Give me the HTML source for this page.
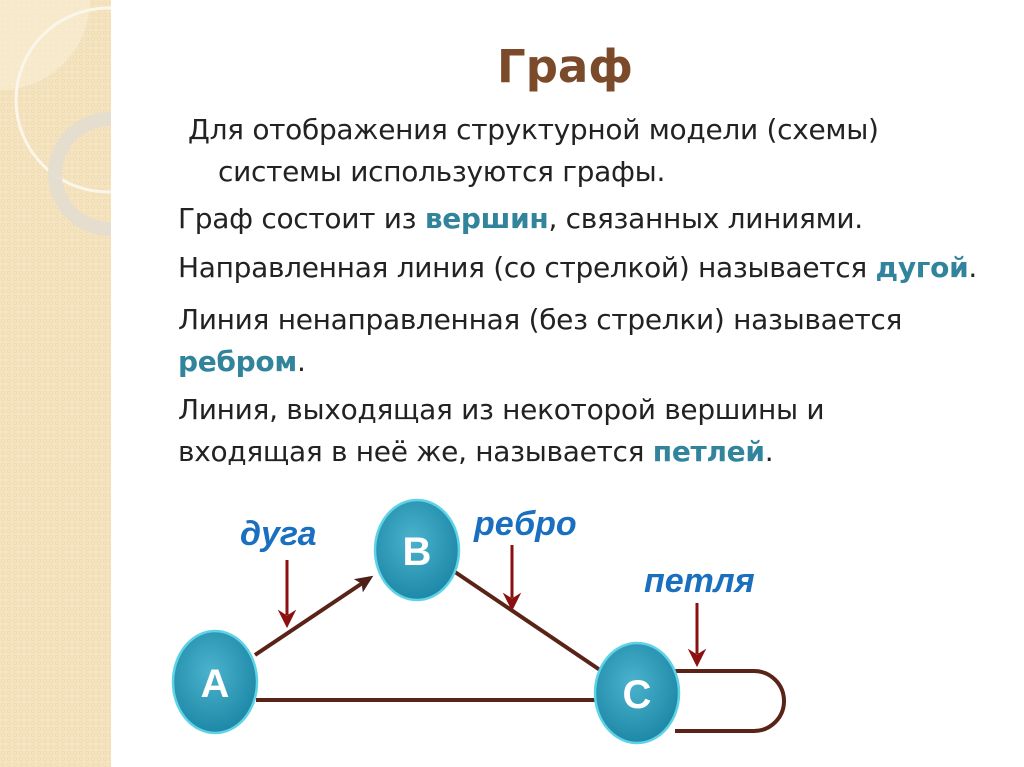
<!DOCTYPE html>
<html><head><meta charset="utf-8"><style>
body{margin:0;width:1024px;height:767px;overflow:hidden;background:#fff;position:relative;font-family:"Liberation Sans","DejaVu Sans",sans-serif}
.t{position:absolute;font-size:28px;color:#222;white-space:nowrap;font-family:"DejaVu Sans","Liberation Sans",sans-serif;letter-spacing:-0.3px;line-height:32px}
b{color:#31849b}
</style></head><body>
<svg width="1024" height="767" style="position:absolute;left:0;top:0">
<defs>
<pattern id="p" width="6" height="6" patternUnits="userSpaceOnUse"><rect width="6" height="6" fill="#f5e4bf"/><circle cx="3" cy="3" r="1.6" fill="none" stroke="#eddbb2" stroke-width="0.8"/></pattern>
<radialGradient id="g" cx="45%" cy="40%" r="60%"><stop offset="0" stop-color="#4bb3cc"/><stop offset="1" stop-color="#1e88a8"/></radialGradient>
<marker id="ah" markerWidth="18" markerHeight="16" refX="14" refY="8" orient="auto" markerUnits="userSpaceOnUse" viewBox="0 0 18 16"><path d="M0,0 L18,8 L0,16 L4,8z" fill="#4a2018"/></marker>
</defs>
<rect x="0" y="0" width="111" height="767" fill="url(#p)"/>
<path d="M0,0 L90,0 A90,90 0 0 1 0,90z" fill="#f8ecd3" opacity="0.7"/>
<circle cx="108" cy="100" r="92" fill="none" stroke="#fbf6ea" stroke-width="3"/>
<circle cx="110" cy="174" r="55" fill="none" stroke="#e3ddd0" stroke-width="14" opacity="0.9"/>
<rect x="111" y="0" width="913" height="767" fill="#fff"/>
<g stroke="#5a2318" stroke-width="4" fill="none">
<line x1="255" y1="655" x2="370" y2="578" marker-end="url(#ah)"/>
<line x1="256" y1="700" x2="600" y2="700"/>
<line x1="455" y1="572" x2="600" y2="670"/>
<path d="M675,671 H754 A30,30 0 0 1 754,731 H675"/>
</g>
<g fill="#8b1010" stroke="#8b1010">
<line x1="287" y1="560" x2="287" y2="615" stroke-width="3"/><path d="M279,611 L287,627 L295,611 L287,616z"/>
<line x1="512" y1="545" x2="512" y2="598" stroke-width="3"/><path d="M504,594 L512,610 L520,594 L512,599z"/>
<line x1="697" y1="603" x2="697" y2="654" stroke-width="3"/><path d="M689,650 L697,666 L705,650 L697,655z"/>
</g>
<g stroke="#5fd3e6" stroke-width="2.5" fill="url(#g)">
<ellipse cx="215" cy="682" rx="42" ry="51"/>
<ellipse cx="417" cy="550" rx="42" ry="50"/>
<ellipse cx="637" cy="693" rx="42" ry="50"/>
</g>
<g fill="#fff" font-family="Liberation Sans,sans-serif" font-weight="bold" font-size="40" text-anchor="middle">
<text x="215" y="697">A</text><text x="417" y="565">B</text><text x="637" y="708">C</text>
</g>
<g fill="#1a6fbf" font-family="Liberation Sans,sans-serif" font-weight="bold" font-style="italic" font-size="34">
<text x="240" y="545">дуга</text><text x="474" y="535">ребро</text><text x="644" y="592">петля</text>
</g>
</svg>
<div style="position:absolute;left:0;width:1130px;top:40px;text-align:center;font-size:45px;font-weight:bold;color:#7b4a2a;font-family:'DejaVu Sans',sans-serif">Граф</div>
<div class="t" style="left:188px;top:114px">Для отображения структурной модели (схемы)</div>
<div class="t" style="left:218px;top:156px">системы используются графы.</div>
<div class="t" style="left:178px;top:203px">Граф состоит из <b>вершин</b>, связанных линиями.</div>
<div class="t" style="left:178px;top:252px">Направленная линия (со стрелкой) называется <b>дугой</b>.</div>
<div class="t" style="left:178px;top:304px">Линия ненаправленная (без стрелки) называется</div>
<div class="t" style="left:178px;top:346px"><b>ребром</b>.</div>
<div class="t" style="left:178px;top:394px">Линия, выходящая из некоторой вершины и</div>
<div class="t" style="left:178px;top:436px">входящая в неё же, называется <b>петлей</b>.</div>
</body></html>
